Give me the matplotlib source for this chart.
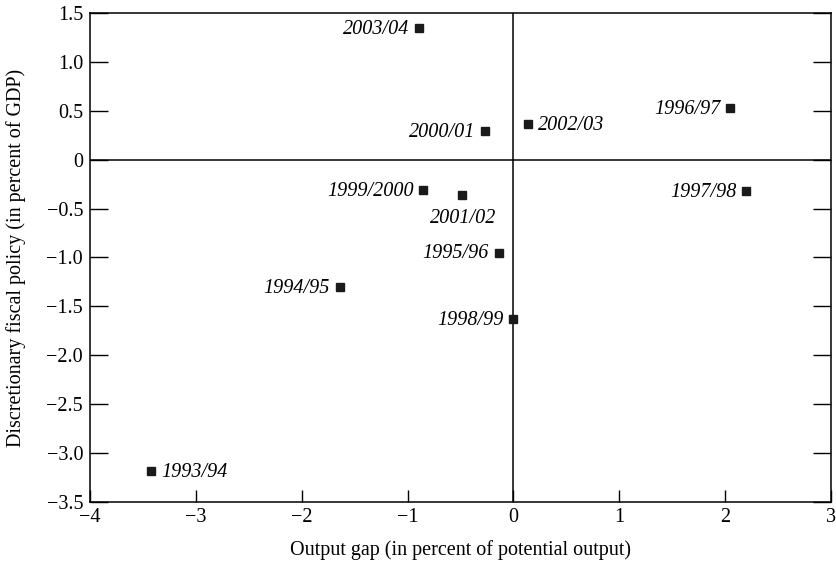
import matplotlib
matplotlib.use("Agg")
import matplotlib.pyplot as plt

# output gap vs discretionary fiscal policy, by fiscal year
years = ["1993/94", "1994/95", "1995/96", "1996/97", "1997/98", "1998/99",
         "1999/2000", "2000/01", "2001/02", "2002/03", "2003/04"]
gap = [-3.42, -1.64, -0.14, 2.05, 2.20, 0.0, -0.85, -0.27, -0.49, 0.14, -0.89]
fiscal = [-3.18, -1.30, -0.95, 0.53, -0.32, -1.63, -0.31, 0.29, -0.36, 0.36, 1.35]

# label placement: (dx, dy) in points, ha
label_pos = {
    "1993/94": (7, -1, "left"),
    "2002/03": (7, -1, "left"),
    "2001/02": (1, -17, "center"),
}

xticks = [-4, -3, -2, -1, 0, 1, 2, 3]
yticks = [-3.5, -3.0, -2.5, -2.0, -1.5, -1.0, -0.5, 0, 0.5, 1.0, 1.5]
ytick_labels = ["\u22123.5", "\u22123.0", "\u22122.5", "\u22122.0", "\u22121.5",
                "\u22121.0", "\u22120.5", "0", "0.5", "1.0", "1.5"]
xtick_labels = ["\u22124", "\u22123", "\u22122", "\u22121", "0", "1", "2", "3"]

plt.rcParams['font.family'] = ['Liberation Serif', 'DejaVu Serif']
fs = 14.5

fig = plt.figure(figsize=(8.37, 5.61), dpi=100)
ax = fig.add_axes([0.1075, 0.1052, 0.8853, 0.8716])

ax.axhline(0, color="black", lw=1.1, zorder=1)
ax.axvline(0, color="black", lw=1.1, zorder=1)
ax.plot(gap, fiscal, "s", color="#1a1a1a", markersize=6, zorder=3)

for yr, x, y in zip(years, gap, fiscal):
    dx, dy, ha = label_pos.get(yr, (-7, -1, "right"))
    ax.annotate(yr, (x, y), xytext=(dx, dy), textcoords="offset points",
                ha=ha, va="center", fontsize=fs, style="italic")

ax.set_xlim(-4, 3)
ax.set_ylim(-3.5, 1.5)
ax.set_xticks(xticks)
ax.set_xticklabels(xtick_labels)
ax.set_yticks(yticks)
ax.set_yticklabels(ytick_labels)
ax.tick_params(direction="in", width=1, labelsize=fs)
ax.tick_params(axis="y", length=13, right=True, pad=5)
ax.tick_params(axis="x", length=9, pad=4)
for s in ax.spines.values():
    s.set_linewidth(1.1)

ax.set_xlabel("Output gap (in percent of potential output)", fontsize=fs, labelpad=10)
ax.set_ylabel("Discretionary fiscal policy (in percent of GDP)", fontsize=fs, labelpad=15)

fig.savefig("out.png", dpi=100)
